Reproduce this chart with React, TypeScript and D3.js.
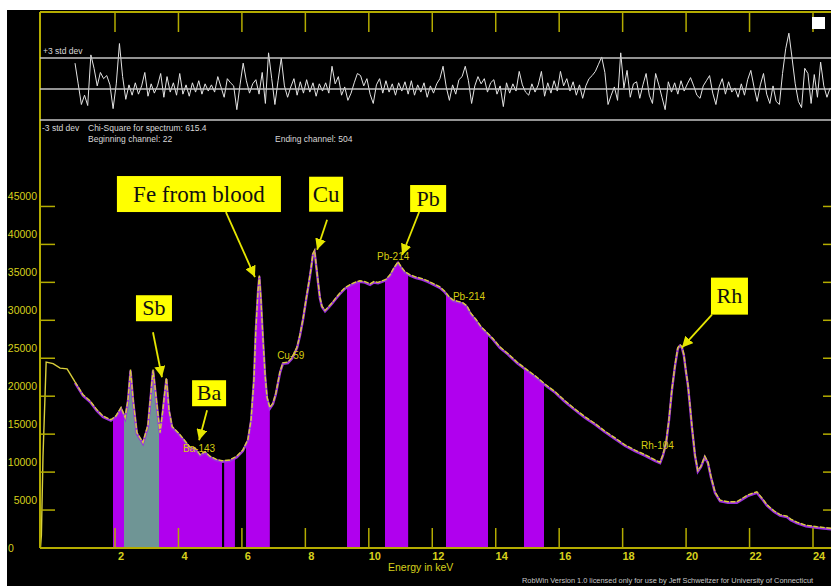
import React, { useEffect, useRef } from 'react';
import * as d3 from 'd3';

const spectrumEnergy = [
  -0.35, -0.32, -0.27, -0.17, 0.05, 0.27, 0.49, 0.74, 0.99, 1.21, 1.43, 1.62, 1.87,
  2.03, 2.19, 2.32, 2.41, 2.49, 2.57, 2.69, 2.88, 3.04, 3.2, 3.32, 3.42, 3.51, 3.62,
  3.7, 3.8, 3.99, 4.17, 4.36, 4.52, 4.68, 4.84, 4.99, 5.18, 5.37, 5.62, 5.84, 6.03,
  6.19, 6.29, 6.38, 6.44, 6.51, 6.55, 6.6, 6.66, 6.73, 6.79, 6.88, 6.98, 7.07, 7.2,
  7.29, 7.45, 7.58, 7.74, 7.83, 7.93, 8.02, 8.11, 8.18, 8.24, 8.29, 8.33, 8.4, 8.46,
  8.52, 8.62, 8.71, 8.84, 8.97, 9.09, 9.25, 9.41, 9.56, 9.72, 9.88, 10.04, 10.16,
  10.29, 10.41, 10.54, 10.67, 10.79, 10.92, 11.01, 11.14, 11.3, 11.49, 11.68, 11.86,
  12.05, 12.24, 12.4, 12.53, 12.65, 12.81, 12.97, 13.09, 13.22, 13.38, 13.53, 13.72,
  13.91, 14.13, 14.39, 14.67, 14.98, 15.27, 15.55, 15.87, 16.18, 16.5, 16.81, 17.13,
  17.44, 17.76, 18.07, 18.39, 18.7, 19.02, 19.18, 19.27, 19.37, 19.46, 19.55, 19.65,
  19.74, 19.81, 19.87, 19.93, 20.0, 20.06, 20.12, 20.18, 20.28, 20.37, 20.47, 20.59,
  20.69, 20.78, 20.91, 21.07, 21.32, 21.6, 21.95, 22.23, 22.39, 22.55, 22.77, 22.96,
  23.18, 23.3, 23.49, 23.78, 24.12, 24.57,
];
const spectrumCounts = [
  0, 1700, 12000, 24500, 24300, 23700, 23600, 21900, 20200, 19400, 18200, 17400, 16900,
  17400, 18500, 17200, 19500, 23500, 19500, 15200, 13900, 16200, 23500, 18900, 15200, 18200, 22400,
  18200, 16000, 15200, 14300, 13300, 13200, 12300, 12700, 12100, 11700, 11500, 11600, 12100, 12900,
  14300, 16900, 22200, 28800, 34000, 35900, 32700, 27800, 22800, 19900, 18500, 19100, 20400, 23200,
  24400, 24500, 25100, 26500, 28100, 30300, 32700, 35000, 36900, 38800, 39200, 37700, 35100, 33000,
  31900, 31300, 31700, 32300, 33000, 33600, 34300, 34700, 35000, 35200, 35100, 34800, 35100,
  35000, 35200, 35400, 36000, 36900, 37700, 37100, 36400, 36000, 35700, 35500, 35200,
  34800, 34400, 33800, 33100, 32700, 32500, 32300, 31900, 30900, 30100, 29200, 28400,
  27600, 26500, 25600, 24500, 23500, 22600, 21600, 20600, 19400, 18300, 17300, 16400,
  15400, 14500, 13600, 12900, 12300, 11600, 11300, 12300, 13900, 16900, 20800, 24100,
  26400, 26800, 26500, 25500, 23200, 21500, 18900, 16200, 12300, 10200, 10800, 12100,
  11300, 9500, 7400, 6300, 6100, 6100, 7000, 7400, 6600, 5700, 4900, 4400,
  4200, 3800, 3400, 3000, 2800, 2600,
];
const fitStartEnergy = 0.74;

// shaded regions of interest (keV)
const bandStart = [1.94, 2.28, 3.39, 5.44, 6.13, 9.31, 10.51, 12.43, 14.89];
const bandEnd = [2.28, 3.39, 5.37, 5.78, 6.88, 9.72, 11.24, 13.76, 15.52];
const bandKind = ['roi', 'overlap', 'roi', 'roi', 'roi', 'roi', 'roi', 'roi', 'roi'];

// residuals in std dev, every 2nd channel from channel 22
const beginChannel = 22;
const endChannel = 504;
const chiSquare = 615.4;
const residualValues = [
  2.5, 0.5, -1.5, -0.6, -1.6, 3.3, 2.0, 0.3, 1.6, 1.0, 1.3, 0.4, -1.9, 0.5, 4.4, 1.2,
  -1.0, 0.4, -0.6, 0.6, -0.5, 0.3, 1.6, -0.7, 0.5, -0.4, 0.3, 1.5, -0.8, 1.2, -0.3, 0.6,
  -0.6, 1.5, -0.5, 0.4, -0.7, 0.6, -0.3, 0.8, -0.5, 0.5, -0.2, 0.4, -0.3, 1.2, 0.2, -0.8,
  1.0, 0.6, 0.3, -2.0, 0.4, 2.5, 0.8, -0.4, 0.5, 0.9, -0.5, 1.6, -1.4, 3.5, 1.0, -1.5,
  0.8, 3.0, 0.3, -0.8, 0.2, 1.0, -0.6, 0.7, -0.4, 0.9, -0.3, 0.6, -0.7, 0.5, -0.2, 0.6,
  -0.4, 2.2, 0.5, 1.2, -0.6, 0.2, -1.1, -0.4, 0.6, 1.5, 1.3, 0.3, 1.0, -0.5, -1.4, 0.4,
  1.0, -0.4, 0.8, -0.3, 0.5, -0.6, 0.6, -0.2, 0.7, -0.5, 0.8, -0.6, 0.4, -0.3, 0.6, -0.8,
  0.3, -0.4, 0.5, 1.0, 2.2, 0.2, -1.1, 0.4, -0.5, 0.9, 1.2, 2.2, 0.8, -1.4, 0.3, 1.2,
  0.5, 1.0, -0.3, 0.6, 0.9, -0.5, 0.3, -1.7, 0.6, -0.4, 0.5, -0.2, 1.7, 0.4, -0.3, -0.6,
  0.5, -0.3, 0.4, 1.7, -0.7, 0.6, -0.4, 0.8, -0.2, 1.7, 0.3, 1.0, -0.2, 0.7, -0.6, 0.4,
  -0.9, 0.3, 1.0, 1.3, 1.7, 2.4, 3.1, 1.6, -1.5, -0.6, 0.2, -1.1, 3.5, 0.1, 1.8, -0.8,
  0.5, 0.7, -0.9, 0.4, 1.5, -0.6, -1.4, 1.5, 0.4, -0.8, -2.0, 0.7, -0.3, 0.6, -0.5, 0.8,
  -0.2, 0.5, 1.1, 0.3, -0.6, -0.9, 0.3, 0.8, 1.3, -0.4, -1.5, 0.2, 1.0, -0.5, 0.7, -0.3,
  0.1, -0.8, 0.5, -0.6, 0.9, 1.8, 0.2, -1.2, 0.4, 1.5, -0.5, -1.4, 0.3, -1.2, -1.5, 1.5,
  3.9, 5.4, 3.0, 0.5, -1.2, -1.8, 2.0, 1.5, -1.4, 1.4, -0.8, 2.6, 0.3, -0.8, 0.1, -0.3,
];

const energyTicks = [2, 4, 6, 8, 10, 12, 14, 16, 18, 20, 22, 24];
const countTicks = [0, 5000, 10000, 15000, 20000, 25000, 30000, 35000, 40000, 45000];

// callouts: arrow tip on the spectrum (keV, counts)
const calloutLabels = ['Fe from blood', 'Cu', 'Sb', 'Ba', 'Pb', 'Rh'];
const calloutEnergy = [6.41, 8.37, 3.48, 4.65, 11.05, 19.87];
const calloutCounts = [35700, 39300, 22500, 14200, 38600, 26400];

// small isotope labels (keV, counts at text baseline)
const isotopeLabels = ['Ba-143', 'Cu-59', 'Pb-214', 'Pb-214', 'Rh-104'];
const isotopeEnergy = [4.14, 7.11, 10.26, 12.65, 18.58];
const isotopeCounts = [12660, 24930, 37990, 32710, 13060];

// box offsets from the arrow tip, px
const calloutLayout = [
  { bx: -138, by: -101, w: 164, h: 36, tx: -29, ty: -65, fs: 23 },
  { bx: -8, by: -73, w: 34, h: 35, tx: 10, ty: -30, fs: 23 },
  { bx: -26, by: -82, w: 36, h: 26, tx: -9, ty: -45, fs: 22 },
  { bx: -7, by: -60, w: 34, h: 26, tx: 8, ty: -30, fs: 22 },
  { bx: 8, by: -70, w: 36, h: 27, tx: 17, ty: -43, fs: 22 },
  { bx: 29, by: -70, w: 37, h: 37, tx: 30, ty: -33, fs: 22 },
];

const W = 831;
const H = 586;
const SANS = 'Liberation Sans, Arial, sans-serif';
const SERIF = 'Liberation Serif, Times New Roman, serif';
const axisColor = '#b4ac00';
const labelColor = '#d6d01c';

function channelEnergy(ch: number) {
  return -0.36 + 0.05 * ch;
}

export default function App() {
  const ref = useRef<SVGSVGElement>(null);

  useEffect(() => {
    const svg = d3.select(ref.current);
    svg.selectAll('*').remove();

    const left = 40, right = W, base = 548, top = 12;

    const x = d3.scaleLinear().domain([2, 24]).range([115, 813]);
    const y = d3.scaleLinear().domain([0, 45000]).range([base, base - 9 * 37.95]);
    const r = d3.scaleLinear().domain([-3, 3]).range([120, 58]);

    svg.append('rect').attr('x', 7).attr('y', 10).attr('width', W - 7).attr('height', H - 10).attr('fill', '#000');

    const defs = svg.append('defs');
    defs.append('clipPath').attr('id', 'plot')
      .append('rect').attr('x', left).attr('y', top).attr('width', right - left).attr('height', base - top);
    defs.append('marker').attr('id', 'head')
      .attr('markerUnits', 'userSpaceOnUse')
      .attr('viewBox', '0 -5 10 10')
      .attr('refX', 10).attr('refY', 0)
      .attr('markerWidth', 11).attr('markerHeight', 11)
      .attr('orient', 'auto')
      .append('path').attr('d', 'M0,-5L10,0L0,5Z').attr('fill', '#e6e600');

    const pts = spectrumEnergy.map((e, i) => ({ e, c: spectrumCounts[i] }));

    // filled regions
    const area = d3.area<{ e: number; c: number }>()
      .x(d => x(d.e)).y0(base).y1(d => y(d.c));
    bandStart.forEach((s, i) => {
      const id = 'band' + i;
      defs.append('clipPath').attr('id', id)
        .append('rect').attr('x', x(s)).attr('y', top).attr('width', x(bandEnd[i]) - x(s)).attr('height', base - top);
      svg.append('path').datum(pts)
        .attr('d', area)
        .attr('clip-path', `url(#${id})`)
        .attr('fill', bandKind[i] === 'overlap' ? '#6f9595' : '#b000ee');
    });

    const plot = svg.append('g').attr('clip-path', 'url(#plot)');
    const line = d3.line<{ e: number; c: number }>().x(d => x(d.e)).y(d => y(d.c));
    const fitPts = pts.filter(d => d.e >= fitStartEnergy);

    // fit (purple) then measured data (yellow)
    plot.append('path').datum(fitPts)
      .attr('d', line).attr('fill', 'none')
      .attr('stroke', '#9a2ee0').attr('stroke-width', 2.4)
      .attr('transform', 'translate(0,1)');
    plot.append('path').datum(pts.filter(d => d.e <= fitStartEnergy))
      .attr('d', line).attr('fill', 'none')
      .attr('stroke', '#d9cf3a').attr('stroke-width', 1.4);
    plot.append('path').datum(fitPts)
      .attr('d', line).attr('fill', 'none')
      .attr('stroke', '#d9cf3a').attr('stroke-width', 1.4)
      .attr('stroke-dasharray', '5 1.5');

    // axes
    svg.append('line').attr('x1', left).attr('x2', right).attr('y1', base).attr('y2', base)
      .attr('stroke', axisColor).attr('stroke-width', 2);
    svg.append('line').attr('x1', left).attr('x2', left).attr('y1', top).attr('y2', base)
      .attr('stroke', axisColor).attr('stroke-width', 2);
    svg.append('line').attr('x1', left).attr('x2', right).attr('y1', top).attr('y2', top)
      .attr('stroke', axisColor).attr('stroke-width', 2);

    energyTicks.forEach(t => {
      svg.append('line').attr('x1', x(t)).attr('x2', x(t)).attr('y1', base).attr('y2', base - 20)
        .attr('stroke', axisColor).attr('stroke-width', 1.5);
      svg.append('line').attr('x1', x(t)).attr('x2', x(t)).attr('y1', top).attr('y2', top + 20)
        .attr('stroke', axisColor).attr('stroke-width', 1.5);
      svg.append('text').attr('x', x(t) + 6).attr('y', base + 12)
        .attr('text-anchor', 'middle').attr('font-family', SANS).attr('font-size', 11)
        .attr('font-weight', 'bold').attr('fill', labelColor).text(t);
    });

    countTicks.forEach(t => {
      if (t > 0) {
        svg.append('line').attr('x1', left).attr('x2', left + 15).attr('y1', y(t)).attr('y2', y(t))
          .attr('stroke', axisColor).attr('stroke-width', 1.5);
        svg.append('line').attr('x1', right - 8).attr('x2', right).attr('y1', y(t)).attr('y2', y(t))
          .attr('stroke', axisColor).attr('stroke-width', 1.5);
      }
      svg.append('text')
        .attr('x', t > 0 ? 37 : 8).attr('y', t > 0 ? y(t) - 6 : y(t) + 4)
        .attr('text-anchor', t > 0 ? 'end' : 'start')
        .attr('font-family', SANS).attr('font-size', 10.5).attr('fill', labelColor)
        .text(t);
    });

    svg.append('text').attr('x', 388).attr('y', 571)
      .attr('font-family', SANS).attr('font-size', 10.5).attr('fill', labelColor)
      .text('Energy in keV');
    svg.append('text').attr('x', 522).attr('y', 583)
      .attr('font-family', SANS).attr('font-size', 7.4).attr('fill', '#c8c8c8')
      .text('RobWin Version 1.0 licensed only for use by Jeff Schweitzer for University of Connecticut');

    // residual panel
    [-3, 0, 3].forEach(v => {
      svg.append('line').attr('x1', left).attr('x2', right).attr('y1', r(v)).attr('y2', r(v))
        .attr('stroke', '#c4c4c4').attr('stroke-width', 1.5);
    });
    const resLine = d3.line<number>()
      .x((_, i) => x(channelEnergy(beginChannel + 2 * i)))
      .y(d => r(d));
    plot.append('path').datum(residualValues)
      .attr('d', resLine).attr('fill', 'none')
      .attr('stroke', '#e4e4e4').attr('stroke-width', 1);

    const small = (tx: number, ty: number, s: string) =>
      svg.append('text').attr('x', tx).attr('y', ty)
        .attr('font-family', SANS).attr('font-size', 8.5).attr('fill', '#d8d8d8').text(s);
    small(43, 54, '+3 std dev');
    small(42, 131, '-3 std dev');
    small(88, 131, 'Chi-Square for spectrum: ' + chiSquare);
    small(88, 142, 'Beginning channel: ' + beginChannel);
    small(275, 142, 'Ending channel: ' + endChannel);

    svg.append('rect').attr('x', 812).attr('y', 17).attr('width', 13).attr('height', 12).attr('fill', '#fff');

    // isotope labels
    isotopeLabels.forEach((s, i) => {
      svg.append('text').attr('x', x(isotopeEnergy[i])).attr('y', y(isotopeCounts[i]))
        .attr('font-family', SANS).attr('font-size', 10).attr('fill', '#d6cc10').text(s);
    });

    // callouts
    calloutLabels.forEach((s, i) => {
      const L = calloutLayout[i];
      const px = x(calloutEnergy[i]);
      const py = y(calloutCounts[i]);
      svg.append('line').attr('x1', px + L.tx).attr('y1', py + L.ty).attr('x2', px).attr('y2', py)
        .attr('stroke', '#e6e600').attr('stroke-width', 1.8).attr('marker-end', 'url(#head)');
      svg.append('rect').attr('x', px + L.bx).attr('y', py + L.by).attr('width', L.w).attr('height', L.h)
        .attr('fill', '#ffff00');
      svg.append('text').attr('x', px + L.bx + L.w / 2).attr('y', py + L.by + L.h / 2 + L.fs * 0.33)
        .attr('text-anchor', 'middle').attr('font-family', SERIF).attr('font-size', L.fs)
        .attr('fill', '#111').text(s);
    });
  }, []);

  return (
    <div style={{ position: 'fixed', left: 0, top: 0 }}>
      <svg ref={ref} width={W} height={H} style={{ display: 'block', background: '#fff' }} />
    </div>
  );
}
